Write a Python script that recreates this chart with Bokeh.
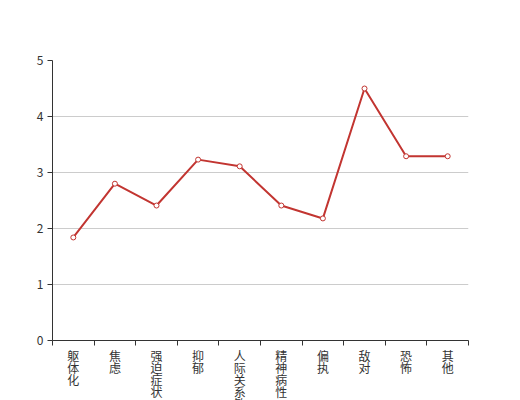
import numpy as np
from bokeh.plotting import figure
from bokeh.layouts import column
from bokeh.models import ColumnDataSource, FixedTicker, Range1d
from bokeh.core.properties import value
from bokeh.embed import file_html
from bokeh.resources import INLINE

categories = ["躯体化", "焦虑", "强迫症状", "抑郁", "人际关系敏感", "精神病性", "偏执", "敌对", "恐怖", "其他"]
values = [1.84, 2.80, 2.41, 3.23, 3.11, 2.41, 2.18, 4.50, 3.29, 3.29]
y_ticks = [0, 1, 2, 3, 4, 5]

n = len(categories)
xs = np.arange(n) + 0.5
src = ColumnDataSource(dict(x=xs, y=values))

p = figure(width=520, height=346, output_backend="svg", toolbar_location=None,
           x_range=Range1d(0, n), y_range=Range1d(0, 5),
           min_border_left=52, min_border_right=52, min_border_top=60, min_border_bottom=6)
p.outline_line_color = None
p.background_fill_color = "white"
p.border_fill_color = "white"

p.line("x", "y", source=src, line_color="#c23531", line_width=2)
p.scatter("x", "y", source=src, size=5, fill_color="white", line_color="#c23531", line_width=1)

# x axis: ticks at category boundaries only
xa = p.xaxis[0]
xa.ticker = FixedTicker(ticks=[], minor_ticks=list(range(n + 1)))
xa.major_tick_line_color = None
xa.major_tick_out = 0
xa.major_tick_in = 0
xa.major_label_standoff = 0
xa.minor_tick_line_color = "#333333"
xa.minor_tick_out = 5
xa.minor_tick_in = 0
xa.axis_line_color = "#333333"
p.xgrid.grid_line_color = None

ya = p.yaxis[0]
ya.ticker = FixedTicker(ticks=y_ticks)
ya.minor_tick_line_color = None
ya.major_tick_in = 0
ya.major_tick_out = 5
ya.axis_line_color = "#333333"
ya.major_tick_line_color = "#333333"
ya.major_label_text_color = "#333333"
ya.major_label_text_font_size = "12px"
ya.major_label_text_font = "Noto Sans CJK SC"
ya.major_label_standoff = 4
p.ygrid.grid_line_color = "#cccccc"
p.ygrid.ticker = FixedTicker(ticks=y_ticks[1:])

# category labels, characters stacked vertically, in a strip below the chart
LABEL_H = 54
LINE_STEP = 12
lx, lt, ly = [], [], []
for x, c in zip(xs, categories):
    for j, ch in enumerate(c):
        lx.append(x)
        lt.append(ch)
        ly.append(LINE_STEP * j)
label_src = ColumnDataSource(dict(x=lx, y=ly, text=lt))

q = figure(width=520, height=LABEL_H, output_backend="svg", toolbar_location=None,
           x_range=p.x_range, y_range=Range1d(LABEL_H, 0),
           x_axis_location=None, y_axis_location=None,
           min_border_left=52, min_border_right=52, min_border_top=0, min_border_bottom=0)
q.outline_line_color = None
q.grid.grid_line_color = None
q.background_fill_color = "white"
q.border_fill_color = "white"
q.text("x", "y", text="text", source=label_src,
       text_align="center", text_baseline="top",
       text_font=value("Noto Sans CJK SC"), text_font_size="12px",
       text_color="#333333")

layout = column(p, q, spacing=0)
open("out.html", "w").write(file_html(layout, INLINE))
